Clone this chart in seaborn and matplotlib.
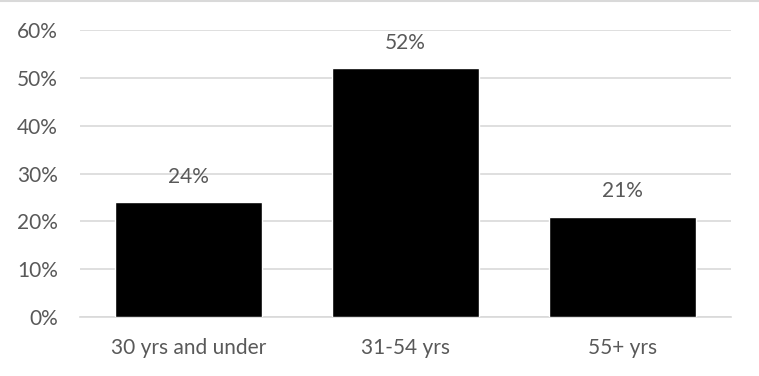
import matplotlib
matplotlib.use("Agg")
import matplotlib.pyplot as plt
import seaborn as sns
import pandas as pd
from matplotlib.lines import Line2D

categories = ["30 yrs and under", "31-54 yrs", "55+ yrs"]
shares = [24, 52, 21]
y_ticks = [0, 10, 20, 30, 40, 50, 60]

text_color = "#595959"
grid_color = "#d9d9d9"
fs = 15

sns.set_style("white")
plt.rcParams['font.family'] = ['Lato', 'DejaVu Sans']

df = pd.DataFrame({"group": categories, "share": shares})

fig = plt.figure(figsize=(7.59, 3.76), dpi=100)
ax = fig.add_axes([0.1054, 0.157, 0.8576, 0.763])

sns.barplot(data=df, x="group", y="share", color="black", width=0.68,
            saturation=1, ax=ax, zorder=3)

ax.set_ylim(0, 60)
ax.set_xlim(-0.5, 2.5)
ax.set_yticks(y_ticks)
ax.set_yticklabels([f"{t}%" for t in y_ticks])
ax.yaxis.grid(True, color=grid_color, linewidth=1.2, zorder=0)
ax.set_axisbelow(True)

for sp in ["top", "right", "left"]:
    ax.spines[sp].set_visible(False)
ax.spines["bottom"].set_color(grid_color)
ax.spines["bottom"].set_linewidth(1.2)

# tick marks between categories
ax.set_xticks([0, 1, 2])
ax.set_xticklabels(categories)
ax.set_xticks([-0.5, 0.5, 1.5, 2.5], minor=True)
ax.tick_params(axis="x", which="major", length=0, pad=15, labelsize=fs,
               labelcolor=text_color)
ax.tick_params(axis="x", which="minor", length=6, width=1.2,
               color=grid_color, direction="out")
ax.tick_params(axis="y", length=0, pad=16, labelsize=fs, labelcolor=text_color)
ax.set_xlabel("")
ax.set_ylabel("")

for i, v in enumerate(shares):
    ax.annotate(f"{v}%", (i, v), xytext=(0, 11), textcoords="offset points",
                ha="center", va="bottom", fontsize=fs, color=text_color)

# top border line of the chart area
fig.add_artist(Line2D([0, 1], [0.998, 0.998], transform=fig.transFigure,
                      color=grid_color, linewidth=1.5))

fig.savefig("out.png", dpi=100)
